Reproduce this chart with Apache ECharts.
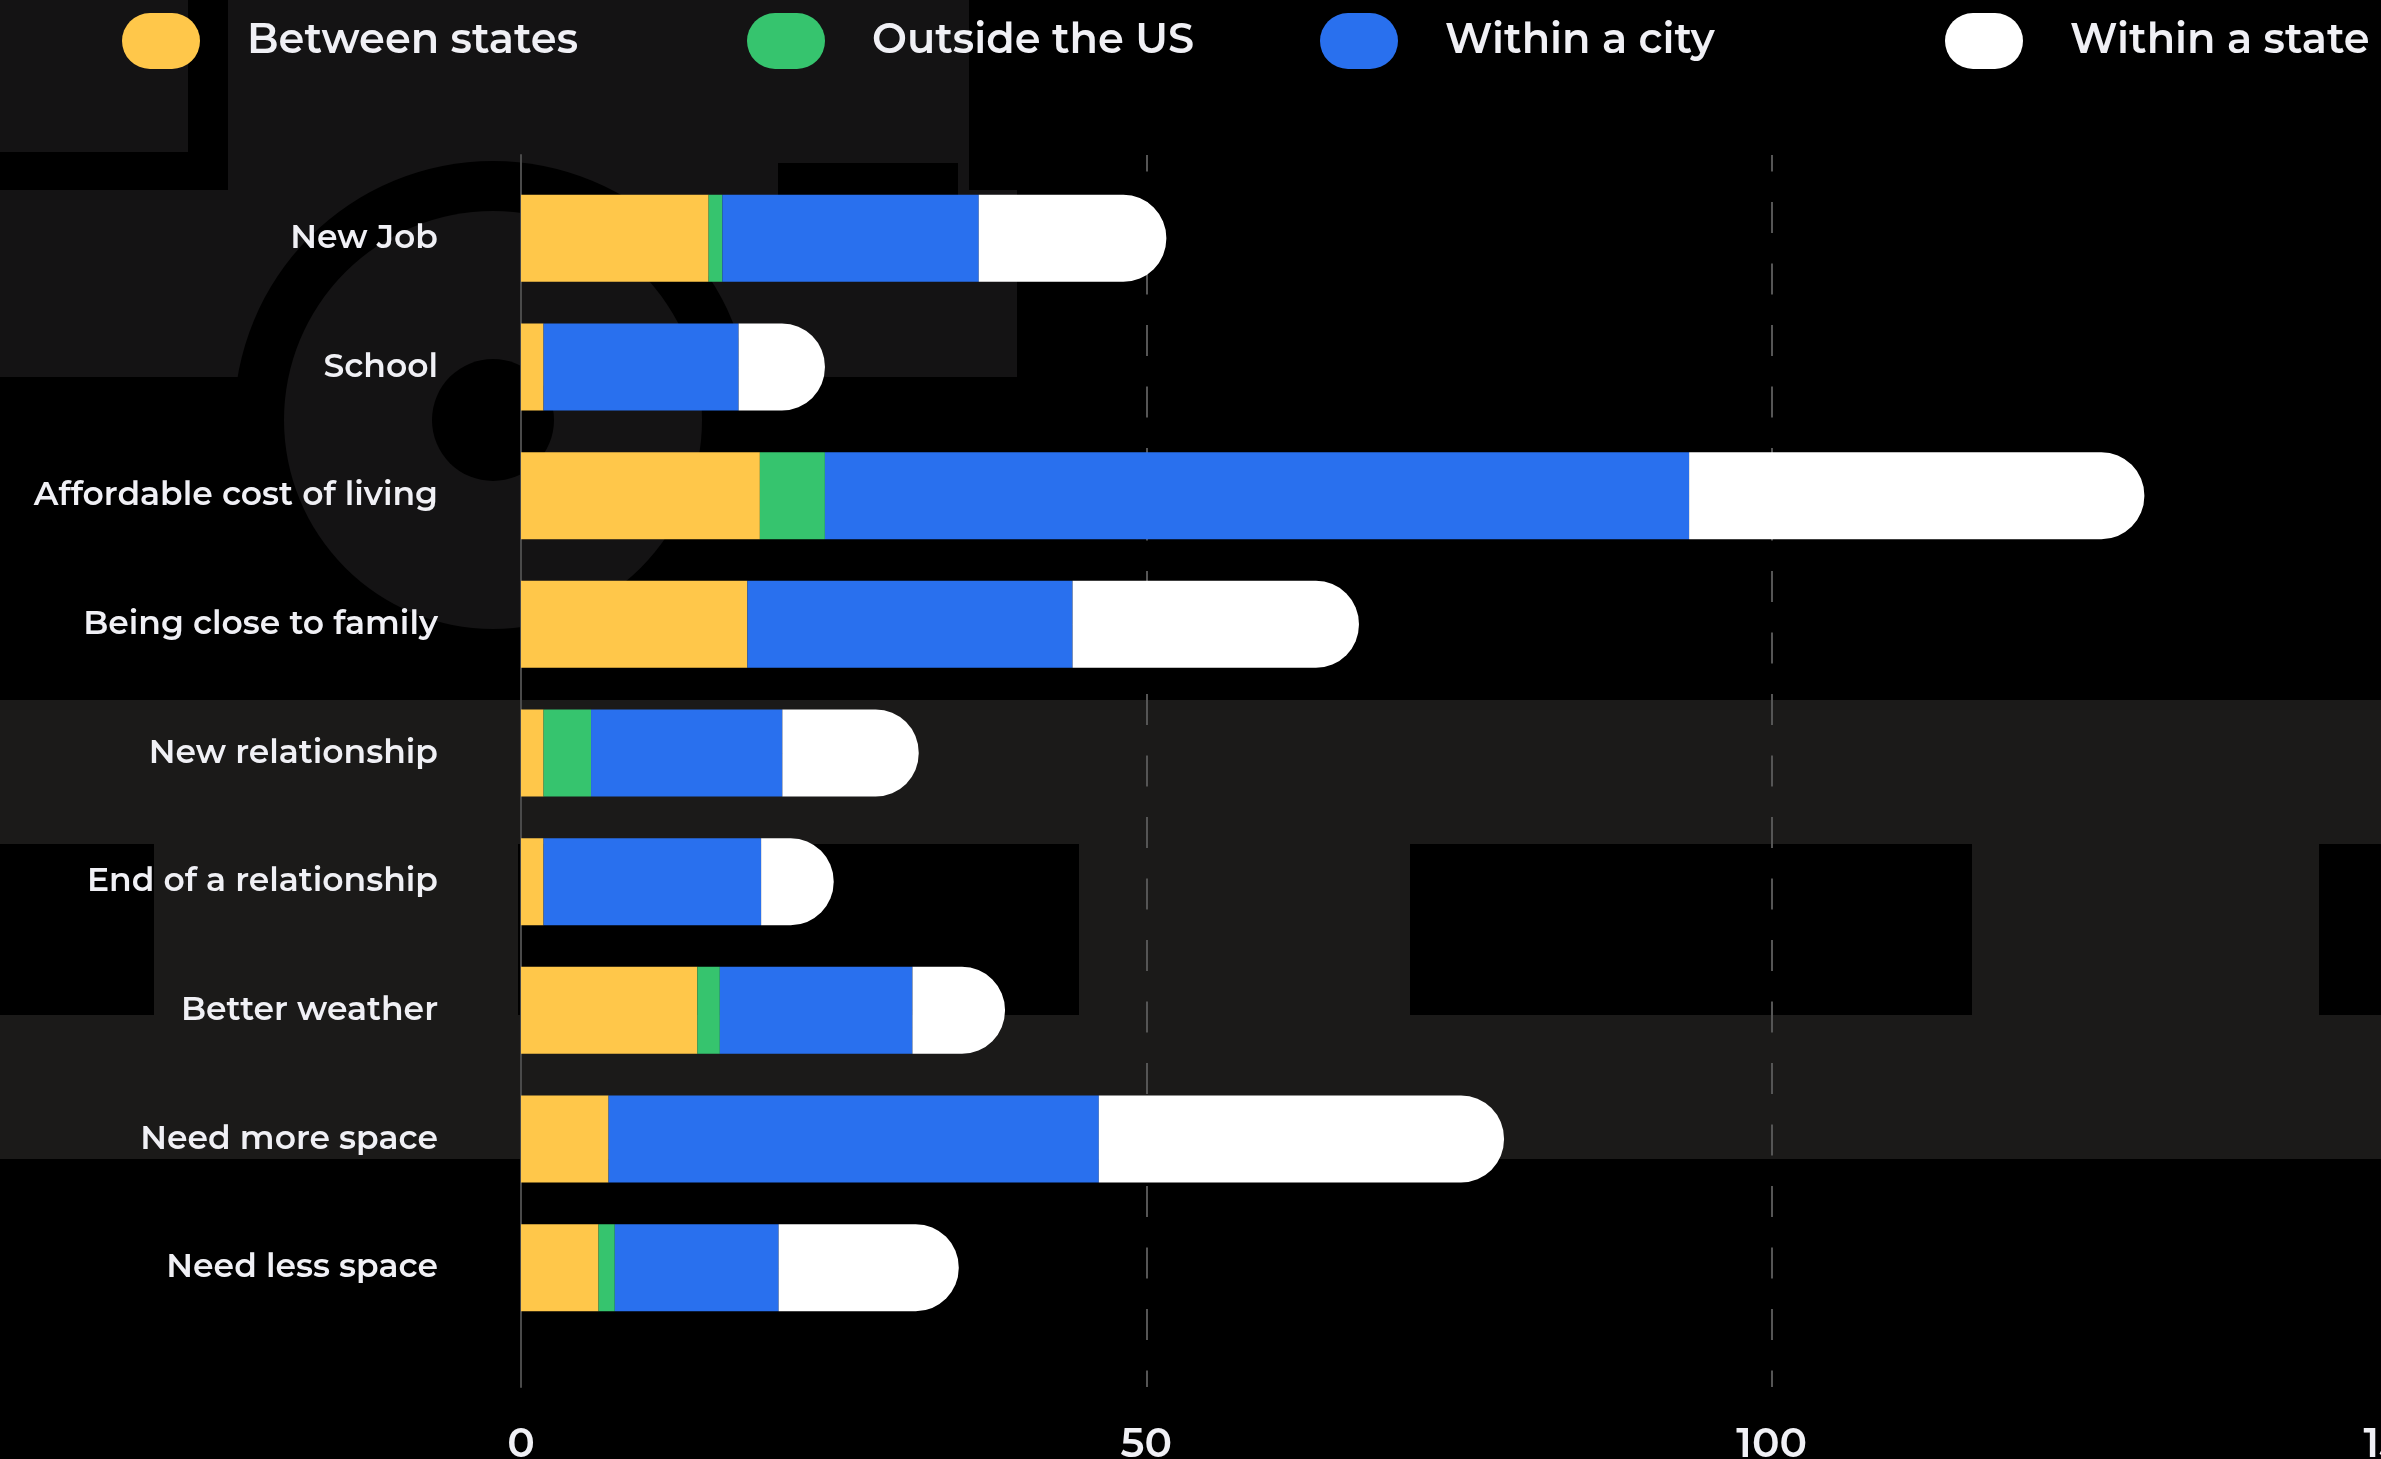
<!DOCTYPE html>
<html>
<head>
<meta charset="utf-8">
<script src="https://cdn.jsdelivr.net/npm/echarts@6/dist/echarts.min.js"></script>
<style>
  html, body { margin: 0; padding: 0; background: #000; }
  #chart { width: 2381px; height: 1459px; }
</style>
</head>
<body>
<div id="chart"></div>
<script>
const categories = [
  'New Job', 'School', 'Affordable cost of living', 'Being close to family',
  'New relationship', 'End of a relationship', 'Better weather',
  'Need more space', 'Need less space'
];
const betweenStates = [15.0, 1.8, 19.1, 18.1, 1.8, 1.8, 14.1, 7.0, 6.2];
const outsideUS     = [1.1, 0, 5.2, 0, 3.8, 0, 1.8, 0, 1.3];
const withinCity    = [20.5, 15.6, 69.1, 26.0, 15.3, 17.4, 15.4, 39.2, 13.1];
const withinState   = [15.0, 6.9, 36.4, 22.9, 10.9, 5.8, 7.4, 32.4, 14.4];
const xTicks = [0, 50, 100, 150];

const colors = {
  between: '#ffc74a',
  outside: '#36c46e',
  city: '#2970ee',
  state: '#ffffff'
};
const textColor = '#f0f0f5';
const fontFamily = "Montserrat, 'Noto Sans', sans-serif";
const pill = 'path://M28,0 L50,0 A28,28 0 0 1 50,56 L28,56 A28,28 0 0 1 28,0 Z';

const chart = echarts.init(document.getElementById('chart'));

// decorative backdrop shapes
const gray1 = '#141314';
const gray2 = '#1b1a19';
const backdrop = [
  { type: 'rect', shape: { x: 0, y: 0, width: 188, height: 152 }, style: { fill: gray1 } },
  { type: 'rect', shape: { x: 228, y: 0, width: 741, height: 200 }, style: { fill: gray1 } },
  { type: 'rect', shape: { x: 0, y: 190, width: 1017, height: 187 }, style: { fill: gray1 } },
  { type: 'rect', shape: { x: 778, y: 163, width: 180, height: 77 }, style: { fill: '#000' } },
  { type: 'circle', shape: { cx: 493, cy: 420, r: 259 }, style: { fill: '#000' } },
  { type: 'circle', shape: { cx: 493, cy: 420, r: 209 }, style: { fill: gray1 } },
  { type: 'circle', shape: { cx: 493, cy: 420, r: 61 }, style: { fill: '#000' } },
  { type: 'rect', shape: { x: 0, y: 700, width: 2381, height: 459 }, style: { fill: gray2 } },
  { type: 'rect', shape: { x: 0, y: 844, width: 154, height: 171 }, style: { fill: '#000' } },
  { type: 'rect', shape: { x: 518, y: 844, width: 561, height: 171 }, style: { fill: '#000' } },
  { type: 'rect', shape: { x: 1410, y: 844, width: 562, height: 171 }, style: { fill: '#000' } },
  { type: 'rect', shape: { x: 2319, y: 844, width: 62, height: 171 }, style: { fill: '#000' } }
].map((g) => Object.assign(g, { z: -10, silent: true }));

const legendNames = ['Between states', 'Outside the US', 'Within a city', 'Within a state'];
const legendLeft = [122, 747, 1320, 1945];

const option = {
  backgroundColor: '#000',
  animation: false,
  graphic: backdrop,
  legend: legendNames.map((n, i) => ({
    data: [n],
    left: legendLeft[i],
    top: 13,
    padding: 0,
    icon: pill,
    itemWidth: 78,
    itemHeight: 56,
    selectedMode: false,
    textStyle: {
      color: textColor,
      fontFamily: fontFamily,
      fontWeight: 600,
      fontSize: 41.5,
      padding: [0, 0, 0, 42]
    }
  })),
  grid: [
    { left: 521, top: 174, width: 1876, height: 1158, outerBoundsMode: 'none' },
    { left: 521, top: 155, width: 1876, height: 1232, outerBoundsMode: 'none' }
  ],
  xAxis: [
    { type: 'value', gridIndex: 0, min: 0, max: 150, show: false },
    {
      type: 'value',
      gridIndex: 1,
      min: xTicks[0],
      max: xTicks[xTicks.length - 1],
      interval: 50,
      axisLine: { show: false },
      axisTick: { show: false },
      axisLabel: {
        color: textColor,
        fontFamily: fontFamily,
        fontWeight: 600,
        fontSize: 41,
        lineHeight: 42,
        margin: 37
      },
      splitLine: {
        show: true,
        showMinLine: false,
        lineStyle: { color: '#555', width: 2, type: [31, 30.5], dashOffset: 14.5 }
      }
    }
  ],
  yAxis: [
    {
      type: 'category',
      gridIndex: 0,
      data: categories,
      inverse: true,
      axisLine: { show: false },
      axisTick: { show: false },
      axisLabel: {
        color: textColor,
        fontFamily: fontFamily,
        fontWeight: 600,
        fontSize: 33,
        margin: 83
      }
    },
    {
      type: 'value',
      gridIndex: 1,
      min: 0,
      max: 1,
      axisLine: { show: true, lineStyle: { color: '#4a4a4a', width: 2 } },
      axisTick: { show: false },
      axisLabel: { show: false },
      splitLine: { show: false }
    }
  ],
  series: [
    { name: 'Between states', data: betweenStates, color: colors.between },
    { name: 'Outside the US', data: outsideUS, color: colors.outside },
    { name: 'Within a city', data: withinCity, color: colors.city },
    {
      name: 'Within a state',
      data: withinState,
      color: colors.state,
      itemStyle: { borderRadius: [0, 43, 43, 0] }
    }
  ].map((s) => Object.assign({
    type: 'bar',
    stack: 'total',
    xAxisIndex: 0,
    yAxisIndex: 0,
    barWidth: 87
  }, s))
};

chart.setOption(option);
</script>
</body>
</html>
